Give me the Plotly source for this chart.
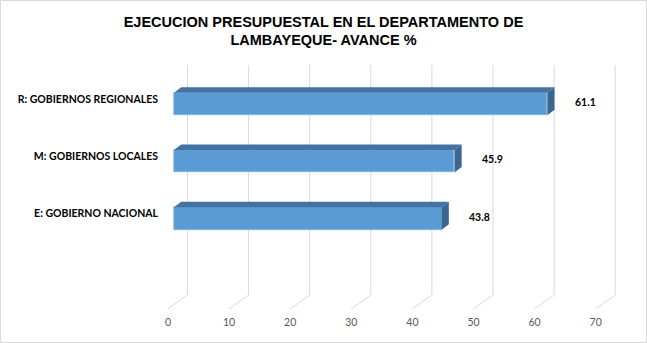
import plotly.graph_objects as go

# ---- data ----
categories = ["E: GOBIERNO NACIONAL", "M: GOBIERNOS LOCALES", "R: GOBIERNOS REGIONALES"]
values = [43.8, 45.9, 61.1]
value_labels = ["43.8", "45.9", "61.1"]
x_ticks = [0, 10, 20, 30, 40, 50, 60, 70]
title_lines = ["EJECUCION PRESUPUESTAL EN EL DEPARTAMENTO DE", "LAMBAYEQUE- AVANCE %"]

# ---- layout geometry (pixels) ----
W, H = 647, 343
L, R, T, B = 165, 630, 65, 309
PXX = 6.11          # px per x unit
PXY = 57.25         # px per category step
X0PX = 174          # pixel of x=0 on bar front face
Y0PX = 218.5        # pixel of first category centre

xr = [(L - X0PX) / PXX, (R - X0PX) / PXX]
yr = [(Y0PX - B) / PXY, (Y0PX - T) / PXY]

bar_w = 22.3 / PXY
dxb = 7.2 / PXX      # bar depth (x)
dyb = 5.5 / PXY      # bar depth (y)
back_dx = 13.5 / PXX
floor_back_y = (Y0PX - 295) / PXY
diag_dx = -19.8 / PXX
grid_top = yr[1]
floor_front_y = yr[0]

ypos = list(range(len(categories)))

fig = go.Figure()

# front faces
fig.add_trace(go.Bar(
    y=ypos, x=values, orientation="h", width=bar_w,
    marker=dict(color="#5B9BD5", line=dict(width=0.6, color="#7FB2E0")),
    hoverinfo="skip", showlegend=False,
))

# top faces and side faces
tx, ty, sx, sy = [], [], [], []
for i, v in zip(ypos, values):
    yt = i + bar_w / 2
    yb = i - bar_w / 2
    tx += [0, v, v + dxb, dxb, 0, None]
    ty += [yt, yt, yt + dyb, yt + dyb, yt, None]
    sx += [v, v + dxb, v + dxb, v, v, None]
    sy += [yt, yt + dyb, yb + dyb, yb, yt, None]

fig.add_trace(go.Scatter(x=tx, y=ty, fill="toself", mode="lines",
                         line=dict(width=0), fillcolor="#4273A2",
                         hoverinfo="skip", showlegend=False))
fig.add_trace(go.Scatter(x=sx, y=sy, fill="toself", mode="lines",
                         line=dict(width=0), fillcolor="#3A6690",
                         hoverinfo="skip", showlegend=False))

# perspective gridlines (behind bars)
shapes = []
for t in x_ticks:
    xb = t + back_dx
    shapes.append(dict(type="line", xref="x", yref="y", layer="below",
                       x0=xb, x1=xb, y0=grid_top, y1=floor_back_y,
                       line=dict(color="#D9D9D9", width=1)))
    shapes.append(dict(type="line", xref="x", yref="y", layer="below",
                       x0=xb, x1=xb + diag_dx, y0=floor_back_y, y1=floor_front_y,
                       line=dict(color="#D9D9D9", width=1)))

# chart border
pw, ph = R - L, B - T
shapes.append(dict(type="rect", xref="paper", yref="paper", layer="above",
                   x0=(0.5 - L) / pw, x1=(W - 0.5 - L) / pw,
                   y0=(B - (H - 0.5)) / ph, y1=(B - 0.5) / ph,
                   line=dict(color="#D9D9D9", width=1)))

annotations = []
for i, v, lab in zip(ypos, values, value_labels):
    annotations.append(dict(x=v, y=i, text=lab, showarrow=False,
                            xanchor="left", yanchor="middle", xshift=25.6, yshift=2,
                            font=dict(family="Lato", size=10.5, color="#000000",
                                      weight="bold")))

fig.update_layout(
    width=W, height=H,
    margin=dict(l=L, r=W - R, t=T, b=H - B, pad=0),
    paper_bgcolor="white", plot_bgcolor="white",
    title=dict(text="<br>".join(title_lines), x=0.5, xref="container",
               y=1 - 26.5 / H, yref="container", yanchor="middle", xanchor="center",
               font=dict(family="Liberation Sans", size=14.5, color="#000000", weight="bold")),
    shapes=shapes, annotations=annotations,
    bargap=0, showlegend=False,
)
fig.update_xaxes(range=xr, showgrid=False, zeroline=False, showline=False,
                 tickvals=x_ticks, ticks="", ticklabelshift=-6, ticklabelstandoff=5,
                 tickfont=dict(family="Lato", size=10.5, color="#595959"))
fig.update_yaxes(range=yr, showgrid=False, zeroline=False, showline=False,
                 tickvals=ypos, ticktext=categories, ticks="", ticklabelshift=-5,
                 ticklabelstandoff=6,
                 tickfont=dict(family="Lato", size=10.5, color="#000000", weight="bold"))

fig.write_html("out.html")
